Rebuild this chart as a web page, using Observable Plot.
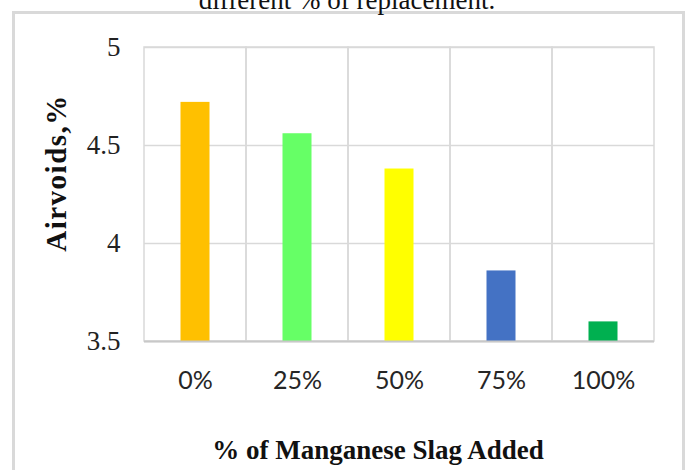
<!DOCTYPE html>
<html>
<head>
<meta charset="utf-8">
<script src="https://cdn.jsdelivr.net/npm/d3@7"></script>
<script src="https://cdn.jsdelivr.net/npm/@observablehq/plot@0.6"></script>
<style>
  html, body { margin: 0; padding: 0; background: #fff; width: 688px; height: 470px; overflow: hidden; }
  #wrap { position: relative; width: 688px; height: 470px; }
  #frame { position: absolute; left: 12px; top: 11px; width: 667px; height: 480px; border: 3px solid #d9d9d9; box-sizing: content-box; }
  #title { position: absolute; left: 0; width: 694px; top: -12.6px; text-align: center; font-family: "Liberation Serif", serif; font-size: 27px; line-height: 1; color: #111; white-space: nowrap; }
  #chart { position: absolute; left: 0; top: 0; }
  #ytitle { position: absolute; left: 56px; top: 173px; transform: translate(-50%, -50%) rotate(-90deg); font-family: "Liberation Serif", serif; font-weight: bold; font-size: 29px; letter-spacing: 1.5px; line-height: 1; color: #111; white-space: nowrap; }
  #xtitle { position: absolute; left: 378px; top: 450px; transform: translate(-50%, -50%); font-family: "Liberation Serif", serif; font-weight: bold; font-size: 27px; line-height: 1; color: #111; white-space: nowrap; }
</style>
</head>
<body>
<div id="wrap">
  <div id="frame"></div>
  <div id="title">different % of replacement.</div>
  <div id="chart"></div>
  <div id="ytitle">Airvoids,%</div>
  <div id="xtitle">% of Manganese Slag Added</div>
</div>
<script>
const categories = ["0%", "25%", "50%", "75%", "100%"];
const airVoids = [4.72, 4.56, 4.38, 3.86, 3.60];
const barColors = ["#FFC000", "#66FF66", "#FFFF00", "#4472C4", "#00B050"];
const yTicks = [3.5, 4, 4.5, 5];
const yTickLabels = ["3.5", "4", "4.5", "5"];

const data = categories.map((c, i) => ({category: c, value: airVoids[i], color: barColors[i]}));

const chart = Plot.plot({
  width: 688,
  height: 470,
  marginLeft: 144,
  marginRight: 34,
  marginTop: 47,
  marginBottom: 129,
  style: {background: "transparent", overflow: "visible"},
  x: {domain: categories, padding: 0},
  y: {domain: [3.5, 5]},
  marks: [
    Plot.barY(categories, {x: d => d, y1: 3.5, y2: 5, fill: "none", stroke: "#d9d9d9", strokeWidth: 1.5}),
    Plot.ruleY(yTicks, {stroke: "#d9d9d9", strokeWidth: 1.5}),
    Plot.barY(data, {x: "category", y1: 3.5, y2: "value", fill: "color", insetLeft: 36.5, insetRight: 36.5}),
    Plot.ruleY([3.5], {stroke: "#c8c8c8", strokeWidth: 2}),
    Plot.axisY({
      ticks: yTicks,
      tickFormat: d => yTickLabels[yTicks.indexOf(d)],
      tickSize: 0,
      tickPadding: 24,
      label: null,
      fontSize: 27,
      fontFamily: "Liberation Serif, serif",
      fill: "#222"
    }),
    Plot.axisX({
      tickSize: 0,
      tickPadding: 30,
      label: null,
      fontSize: 25,
      fontFamily: "Lato, sans-serif",
      fill: "#262626"
    })
  ]
});
document.getElementById("chart").appendChild(chart);
</script>
</body>
</html>
